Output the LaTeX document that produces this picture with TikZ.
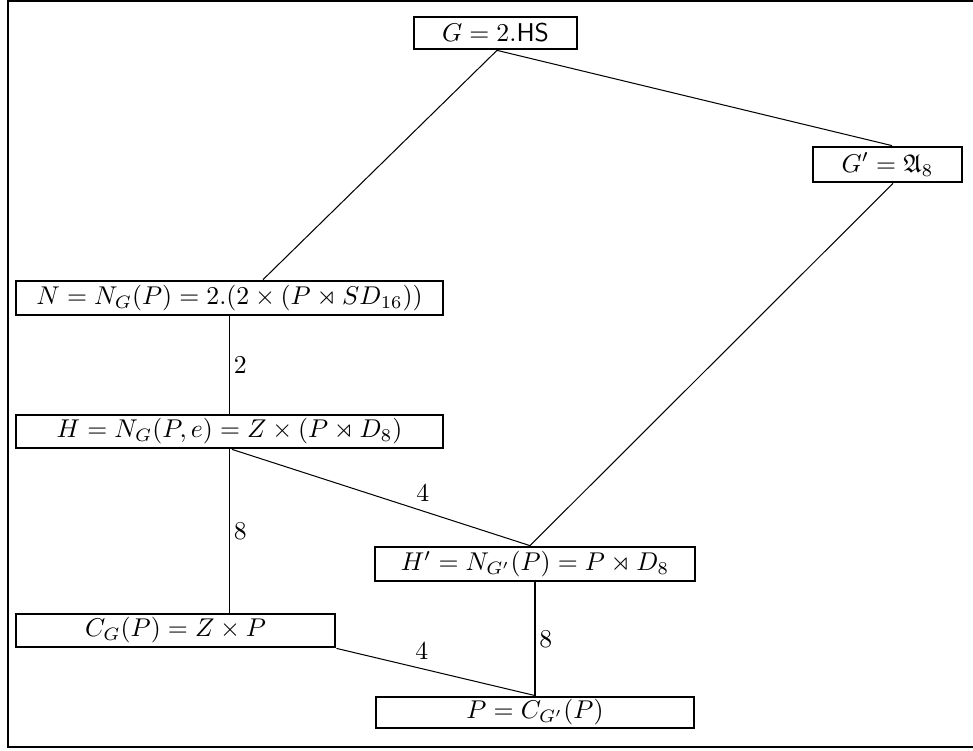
\documentclass[tikz,border=0pt]{standalone}
\usepackage{amssymb}
\usepackage{amsmath}
\usetikzlibrary{calc, positioning}

\tikzset{grp/.style={draw, line width=1.1pt, inner sep=0pt},
    idx/.style={right, inner sep=1.5pt}}

\begin{document}
\begin{tikzpicture}[x=0.389pt, y=-0.389pt]
            \useasboundingbox (0, 0) rectangle (973, 750);
            \draw[line width=0.8pt] (973, 1) -- (8, 1) -- (8, 747) -- (973, 747);
            \node[grp, minimum width=63.4pt, minimum height=12.4pt] (G) at (495.5, 33) {$G = 2.\mathsf{HS}$};
            \node[grp, minimum width=58pt, minimum height=13.6pt] (Gp) at (887.5, 164.5) {$G' = \mathfrak{A}_8$};
            \node[grp, minimum width=166.1pt, minimum height=13.2pt] (N) at (229.5, 298) {$N = N_G(P) = 2.(2 \times (P \rtimes SD_{16}))$};
            \node[grp, minimum width=166.1pt, minimum height=12.8pt] (H) at (229.5, 431.5) {$H = N_G(P, e) = Z \times (P \rtimes D_8)$};
            \node[grp, minimum width=124.5pt, minimum height=13.2pt] (Hp) at (535, 564) {$H' = N_{G'}(P) = P \rtimes D_8$};
            \node[grp, minimum width=124.1pt, minimum height=12.8pt] (C) at (175.5, 630.5) {$C_G(P) = Z \times P$};
            \node[grp, minimum width=123.7pt, minimum height=12.1pt] (P) at (535, 712.5) {$P = C_{G'}(P)$};
            \coordinate (top) at ($(G.south) + (1.5, 0)$);
            \coordinate (meet) at ($(Hp.north) + (-5, 0)$);
            \draw (top) -- ($(N.north) + (33.5, 0)$);
            \draw (top) -- ($(Gp.north) + (4.5, 0)$);
            \draw ($(Gp.south) + (5.5, 0)$) -- (meet);
            \draw (N.south) -- node[idx] {$2$} (H.north);
            \draw (H.south) -- node[idx] {$8$} (H.south |- C.north);
            \draw ($(H.south) + (2.5, 0)$) -- node[pos=0.64, above] {$4$} (meet);
            \draw (Hp.south) -- node[idx] {$8$} (P.north);
            \draw (C.south east) -- node[pos=0.43, above] {$4$} (P.north);
        \end{tikzpicture}
\end{document}
